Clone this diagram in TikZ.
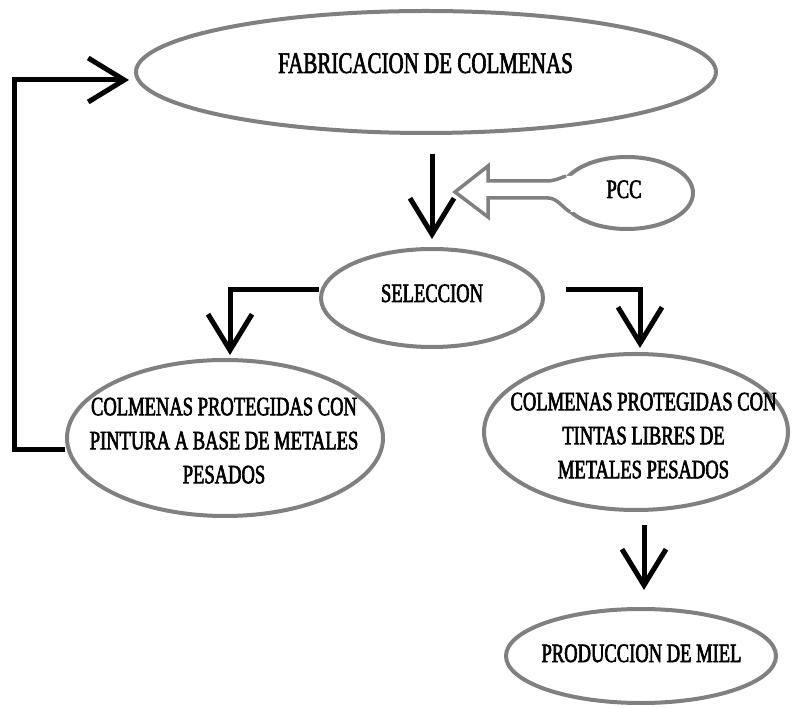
\documentclass[tikz,border=0pt]{standalone}
\usepackage{fontspec}
\newfontfamily\lblfont{Liberation Serif}[FakeStretch=0.7]
\usetikzlibrary{arrows.meta,calc,shapes.geometric}
\definecolor{ellgray}{RGB}{128,128,128}
\newcommand\hvon{\special{pdf:literal direct 2 Tr 0.6 w}}
\newcommand\hvoff{\special{pdf:literal direct 0 Tr}}
\begin{document}
\begin{tikzpicture}[x=1pt,y=1pt,
 ell/.style={draw=ellgray, line width=4pt, ellipse, fill=white, inner sep=0pt},
 lbl/.style={inner sep=0pt, font=\lblfont\fontsize{26.5}{34}\selectfont, align=center},
 arr/.style={draw=black, line width=5pt, -{Straight Barb[length=36pt,width=44pt]}},
]
\useasboundingbox (0,0) rectangle (792,707);
\node[ell, minimum width=580, minimum height=122] (fab) at (426,635) {};
\node[ell, minimum width=132, minimum height=72] (pcc) at (627,514) {};
\node[ell, minimum width=222, minimum height=98] (sel) at (432,409) {};
\node[ell, minimum width=316, minimum height=156] (left) at (225,269) {};
\node[ell, minimum width=304, minimum height=156] (right) at (636,275) {};
\node[ell, minimum width=270, minimum height=94] (prod) at (641,51) {};

% hollow arrow from PCC
\fill[white] (455,515) -- (488,541) -- (488,526) -- (546,526) .. controls (555,526) and (560,529) .. (566,531) -- (580,531) -- (580,495) -- (570,495) .. controls (562,500) and (557,509) .. (548,509) -- (488,509) -- (488,490) -- cycle;
\draw[draw=ellgray, line width=3.5pt, line join=miter] (566,531) .. controls (560,529) and (555,526) .. (546,526) -- (488,526) -- (488,541) -- (455,515) -- (488,490) -- (488,509) -- (548,509) .. controls (557,509) and (562,500) .. (570,495);

% connectors
\draw[arr] ($(sel.north)+(0,93)$) -- ($(sel.north)+(0,8)$);
\draw[arr] ($(sel.west)+(0,8)$) -| ($(left.north)+(5,3)$);
\draw[arr] ($(sel.east)+(21,8)$) -| ($(right.north)+(4,4)$);
\draw[arr] ($(left.west)+(0,-12)$) -| ($(fab.west)+(-120,-8)$) -- ($(fab.west)+(-5,-8)$);
\draw[arr] ($(right.south)+(8,-13)$) -- ($(prod.north)+(3,17)$);

% texts
\node[lbl, font=\lblfont\fontsize{30}{36}\selectfont, anchor=base] (tfab) at (425.5,634) {\hvon FABRICACION DE COLMENAS\hvoff};
\node[lbl, anchor=base] (tpcc) at (624,509) {\hvon PCC\hvoff};
\node[lbl, anchor=base] (tsel) at (432,405) {\hvon SELECCION\hvoff};
\node[lbl, anchor=north] (tleft) at (224,309.5) {\hvon COLMENAS PROTEGIDAS CON\\PINTURA A BASE DE METALES\\PESADOS\hvoff};
\node[lbl, anchor=north] (tright) at (643.5,314.5) {\hvon COLMENAS PROTEGIDAS CON\\TINTAS LIBRES DE\\METALES PESADOS\hvoff};
\node[lbl, anchor=base] (tprod) at (641.5,45) {\hvon PRODUCCION DE MIEL\hvoff};
\end{tikzpicture}
\end{document}
